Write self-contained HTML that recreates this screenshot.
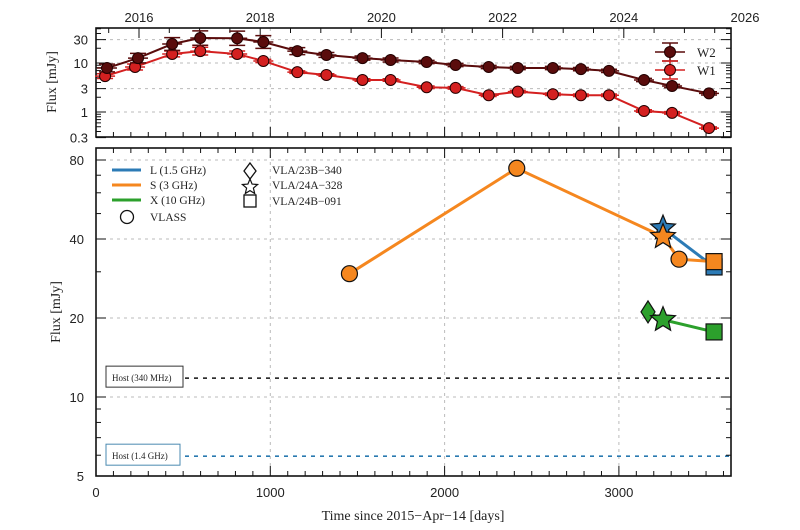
<!DOCTYPE html>
<html><head><meta charset="utf-8">
<style>
html,body{margin:0;padding:0;background:#fff;}
svg{display:block;}
text{font-family:"Liberation Serif",serif;fill:#222;}
.tk{font-family:"Liberation Sans",sans-serif;font-size:13px;}
</style></head>
<body>
<svg id="chart" width="800" height="530" viewBox="0 0 800 530"></svg>
<script>
// ---- data ----
const w2Days = [63,241,437,598,810,960,1155,1322,1529,1690,1897,2063,2253,2420,2621,2782,2943,3144,3305,3517];
const w2Flux = [7.9,12.6,24.4,32.3,32,26.8,17.5,14.6,12.6,11.5,10.5,9.1,8.3,7.9,7.9,7.5,6.9,4.5,3.4,2.4];
const w2Err  = [1.2,1.25,1.35,1.4,1.4,1.35,1.18,1.12,1.1,1.1,1.08,1.08,1.08,1.08,1.08,1.08,1.08,1.08,1.08,1.08];
const w1Days = [52,224,437,598,810,960,1155,1322,1529,1690,1897,2063,2253,2420,2621,2782,2943,3144,3305,3517];
const w1Flux = [5.4,8.3,15.3,17.5,15.3,11,6.5,5.7,4.5,4.5,3.2,3.1,2.2,2.6,2.3,2.2,2.2,1.05,0.96,0.47];
const w1Err  = [1.12,1.15,1.15,1.2,1.15,1.08,1.06,1.06,1.06,1.06,1.06,1.06,1.06,1.06,1.06,1.06,1.06,1.06,1.06,1.06];
const sLineDays = [1454,2414,3253,3345,3546];
const sLineFlux = [29.5,74.4,40.8,33.5,32.8];
const lLineDays = [3253,3546];
const lLineFlux = [44,31.3];
const xLineDays = [3167,3253,3546];
const xLineFlux = [21.1,19.7,17.7];
const vlassDays = [1454,2414,3345];
const vlassFlux = [29.5,74.4,33.5];
const hostFlux = [11.8,5.95];
const hostLabels = ["Host (340 MHz)","Host (1.4 GHz)"];
const topYTicks = [0.3,1,3,10,30];
const botYTicks = [5,10,20,40,80];
const xTicks = [0,1000,2000,3000];
const yearTicks = [2016,2018,2020,2022,2024,2026];

const NS="http://www.w3.org/2000/svg";
const svg=document.getElementById('chart');
function el(tag,attrs,parent){const e=document.createElementNS(NS,tag);for(const k in attrs)e.setAttribute(k,attrs[k]);(parent||svg).appendChild(e);return e;}
const X0=96,X1=731,DMAX=(X1-X0)/0.1743;
const xs=d=>X0+d*0.1743;
const yx=y=>139+60.6*(y-2016);
// top panel
const TT=28,TB=137;
const ty=v=>112-49*Math.log10(v);
// bottom panel
const BT=148,BB=476;
const by=v=>160+79*Math.log2(80/v);

// grids
[[TT,TB],[BT,BB]].forEach(([t,b])=>{
  xTicks.slice(1).forEach(d=>{
    const g=el('line',{x1:xs(d),x2:xs(d),y1:t,y2:b,stroke:'#bbb','stroke-dasharray':'3,4','stroke-width':1});
    
    
  });
});
topYTicks.slice(1).forEach(v=>{
  const g=el('line',{x1:X0,x2:X1,y1:ty(v),y2:ty(v),stroke:'#bbb','stroke-dasharray':'3,4'});
  
  
});
botYTicks.slice(1).forEach(v=>{
  const g=el('line',{x1:X0,x2:X1,y1:by(v),y2:by(v),stroke:'#bbb','stroke-dasharray':'3,4'});
  
  
});

// host lines
const hostColors=['#111','#2a7ab0'];
hostFlux.forEach((v,i)=>{
  const l=el('line',{x1:X0+80,x2:X1,y1:by(v),y2:by(v),stroke:hostColors[i],'stroke-dasharray':'4,5','stroke-width':1.6});
  
  
  const r=el('rect',{x:X0+10,y:by(v)-12,width:i?74:77,height:21,fill:'#fff',stroke:i?'#4a8ab0':'#333'});
  
  
  const t=el('text',{x:X0+16,y:by(v)+3,'font-size':'9'});t.textContent=hostLabels[i];
  
  
});

// axes frames + ticks
function frame(t,b,name){
  const r=el('rect',{x:X0,y:t,width:X1-X0,height:b-t,fill:'none',stroke:'#111','stroke-width':1.6});
  
  
  for(let d=0;d<=DMAX;d+=100){
    const L=d%1000===0?10:5;
    el('line',{x1:xs(d),x2:xs(d),y1:b,y2:b-L,stroke:'#111'});
    if(t===BT) el('line',{x1:xs(d),x2:xs(d),y1:t,y2:t+L,stroke:'#111'});
  }
}
frame(TT,TB,'top-panel-frame');
frame(BT,BB,'bottom-panel-frame');
// top year ticks
for(let y=2015.5;y<=2026;y+=0.5){
  const x=yx(y);
  if(x<X0||x>X1)continue;
  const L=(y%2===0)?10:5;
  el('line',{x1:x,x2:x,y1:TT,y2:TT+L,stroke:'#111'});
}
yearTicks.forEach(y=>{
  const t=el('text',{x:yx(y),y:22,'text-anchor':'middle',class:'tk'});t.textContent=y;
  
  
});
// top y ticks
for(let e=-1;e<=1;e++)for(let m=1;m<=9;m++){const v=m*Math.pow(10,e);if(v<0.3||v>52)continue;
  const L=(m===1||m===3)?10:5;const yy=ty(v);
  el('line',{x1:X0,x2:X0+L,y1:yy,y2:yy,stroke:'#111'});el('line',{x1:X1,x2:X1-L,y1:yy,y2:yy,stroke:'#111'});}
topYTicks.forEach(v=>{
  const t=el('text',{x:X0-8,y:ty(v)+5,'text-anchor':'end',class:'tk'});t.textContent=v;
  
  
});
// bottom y ticks
[5,6,7,8,9,10,20,30,40,50,60,70,80].forEach(v=>{const L=botYTicks.includes(v)?10:5;const yy=by(v);
  el('line',{x1:X0,x2:X0+L,y1:yy,y2:yy,stroke:'#111'});el('line',{x1:X1,x2:X1-L,y1:yy,y2:yy,stroke:'#111'});});
botYTicks.forEach(v=>{
  const t=el('text',{x:X0-12,y:by(v)+5,'text-anchor':'end',class:'tk'});t.textContent=v;
  
  
});
xTicks.forEach(d=>{
  const t=el('text',{x:xs(d),y:497,'text-anchor':'middle',class:'tk'});t.textContent=d;
  
  
});
// axis titles
let at=el('text',{x:413,y:520,'text-anchor':'middle','font-size':'14'});at.textContent='Time since 2015\u2212Apr\u221214 [days]';

at=el('text',{x:0,y:0,'text-anchor':'middle','font-size':'14',transform:'translate(56,82) rotate(-90)'});at.textContent='Flux [mJy]';

at=el('text',{x:0,y:0,'text-anchor':'middle','font-size':'14',transform:'translate(60,312) rotate(-90)'});at.textContent='Flux [mJy]';


// WISE series
function wise(days,flux,err,color,name){
  const pts=days.map((d,i)=>xs(d)+','+ty(flux[i])).join(' ');
  const pl=el('polyline',{points:pts,fill:'none',stroke:color,'stroke-width':2});
  
  
  days.forEach((d,i)=>{
    const x=xs(d),y=ty(flux[i]),y1=ty(flux[i]*err[i]),y2=ty(flux[i]/err[i]);
    el('line',{x1:x,x2:x,y1:y1,y2:y2,stroke:color,'stroke-width':1.5});
    el('line',{x1:x-8,x2:x+8,y1:y1,y2:y1,stroke:color,'stroke-width':1.5});
    el('line',{x1:x-8,x2:x+8,y1:y2,y2:y2,stroke:color,'stroke-width':1.5});
    el('line',{x1:x-10,x2:x+10,y1:y,y2:y,stroke:color,'stroke-width':1.5});
    const c=el('circle',{cx:x,cy:y,r:5.5,fill:color,stroke:'#200','stroke-width':1});
    
    
  });
}
wise(w1Days,w1Flux,w1Err,'#d42020','w1');
wise(w2Days,w2Flux,w2Err,'#5a0c0c','w2');
// top legend
[['W2','#5a0c0c',52],['W1','#d42020',70]].forEach(([n,c,y])=>{
  el('line',{x1:655,x2:685,y1:y,y2:y,stroke:c,'stroke-width':1.5});
  el('line',{x1:670,x2:670,y1:y-9,y2:y+9,stroke:c,'stroke-width':1.5});
  el('line',{x1:662,x2:678,y1:y-9,y2:y-9,stroke:c,'stroke-width':1.5});
  el('line',{x1:662,x2:678,y1:y+9,y2:y+9,stroke:c,'stroke-width':1.5});
  const m=el('circle',{cx:670,cy:y,r:5.5,fill:c,stroke:'#200'});
  
  
  const t=el('text',{x:697,y:y+5,'font-size':'13'});t.textContent=n;
  
  
});

// radio series
const BLUE='#2c7bb6',ORANGE='#f5871f',GREEN='#2ca02c';
function line(days,flux,color,name){
  const p=el('polyline',{points:days.map((d,i)=>xs(d)+','+by(flux[i])).join(' '),fill:'none',stroke:color,'stroke-width':3});
  
  
}
line(lLineDays,lLineFlux,BLUE,'l-band-line');
line(sLineDays,sLineFlux,ORANGE,'s-band-line');
line(xLineDays,xLineFlux,GREEN,'x-band-line');
function star(cx,cy,R,color,name){
  let p=[];for(let i=0;i<10;i++){const a=-Math.PI/2+i*Math.PI/5,r=i%2?R*0.45:R;p.push((cx+r*Math.cos(a)).toFixed(1)+','+(cy+r*Math.sin(a)).toFixed(1));}
  const s=el('polygon',{points:p.join(' '),fill:color,stroke:'#111','stroke-width':1.2});
  return s;
}
function square(cx,cy,s,color,name){const r=el('rect',{x:cx-s/2,y:cy-s/2,width:s,height:s,fill:color,stroke:'#111','stroke-width':1.2});
  }
function diamond(cx,cy,w,h,color,name){const d=el('polygon',{points:`${cx},${cy-h} ${cx+w},${cy} ${cx},${cy+h} ${cx-w},${cy}`,fill:color,stroke:'#111','stroke-width':1.2});
  }
// L
square(xs(lLineDays[1]),by(lLineFlux[1]),16,BLUE,'l-band-square');
star(xs(lLineDays[0]),by(lLineFlux[0]),13,BLUE,'l-band-star');
// S
square(xs(sLineDays[4]),by(sLineFlux[4]),16,ORANGE,'s-band-square');
vlassDays.forEach((d,i)=>{
  const c=el('circle',{cx:xs(d),cy:by(vlassFlux[i]),r:8,fill:ORANGE,stroke:'#111','stroke-width':1.2});
  
  
});
star(xs(sLineDays[2]),by(sLineFlux[2]),13,ORANGE,'s-band-star');
// X
diamond(xs(xLineDays[0]),by(xLineFlux[0]),7,11,GREEN,'x-band-diamond');
star(xs(xLineDays[1]),by(xLineFlux[1]),13,GREEN,'x-band-star');
square(xs(xLineDays[2]),by(xLineFlux[2]),16,GREEN,'x-band-square');

// bottom legend
[['L (1.5 GHz)',BLUE,170],['S (3 GHz)',ORANGE,185],['X (10 GHz)',GREEN,200]].forEach(([n,c,y],i)=>{
  const l=el('line',{x1:112,x2:141,y1:y,y2:y,stroke:c,'stroke-width':3});
  
  const t=el('text',{x:150,y:y+4,'font-size':'11.5'});t.textContent=n;
  
});
el('circle',{cx:127,cy:217,r:6.5,fill:'none',stroke:'#111','stroke-width':1.3});
let lt=el('text',{x:150,y:221,'font-size':'11.5'});lt.textContent='VLASS';

el('polygon',{points:'250,163 256,171 250,179 244,171',fill:'none',stroke:'#111','stroke-width':1.3});
star(250,187,8,'none','legend-star');
el('rect',{x:244,y:195,width:12,height:12,fill:'none',stroke:'#111','stroke-width':1.3});
[['VLA/23B\u2212340',174],['VLA/24A\u2212328',189],['VLA/24B\u2212091',205]].forEach(([n,y])=>{
  const t=el('text',{x:272,y:y,'font-size':'11.5'});t.textContent=n;
  
});
</script>
</body></html>
